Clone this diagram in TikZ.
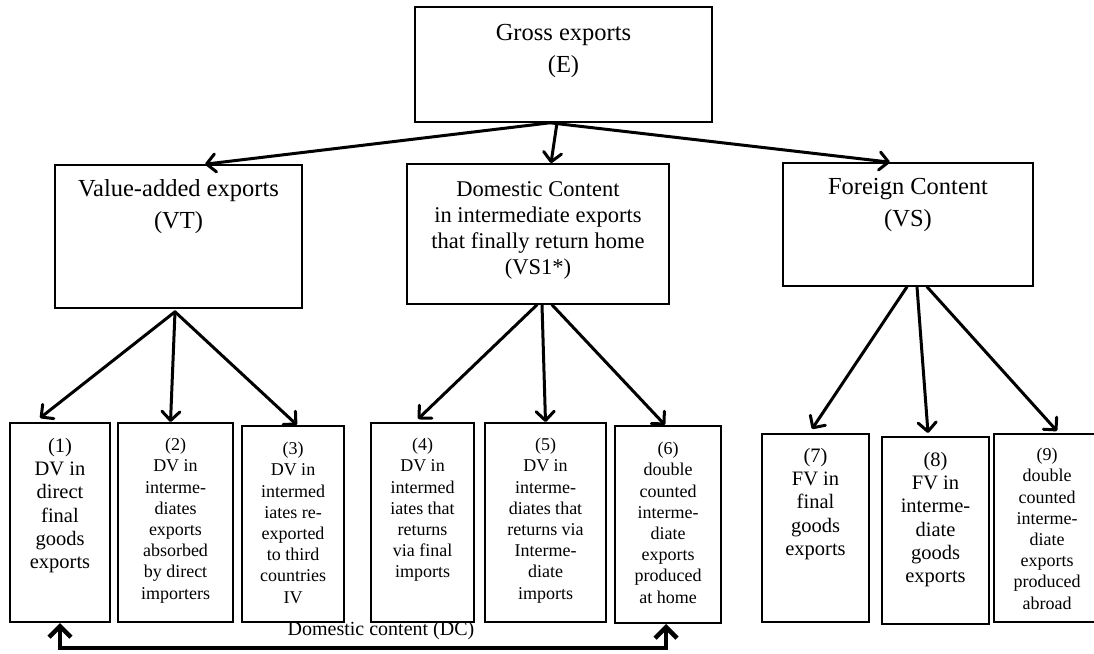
\documentclass[tikz,border=0pt]{standalone}
\usepackage{fontspec}
\setmainfont{Liberation Serif}
\usetikzlibrary{arrows.meta,fit}
\begin{document}
\begin{tikzpicture}[x=1pt,y=-1pt,
  topbox/.style={draw, line width=1.6pt, inner sep=0pt},
  botbox/.style={draw, line width=2pt, inner sep=0pt},
  txt/.style={anchor=north, inner sep=0pt, align=center},
  bigtxt/.style={txt, font=\fontsize{24.5}{32}\selectfont},
  midtxt/.style={txt, font=\fontsize{22.5}{26}\selectfont},
  btxtA/.style={txt, font=\fontsize{20.5}{23.2}\selectfont},
  btxtB/.style={txt, font=\fontsize{18}{21.2}\selectfont},
  arr/.style={line width=3pt, line cap=round, line join=round, -{Straight Barb[length=9pt,width=18pt,line cap=round,line join=round]}},
  dcarr/.style={line width=4.5pt, line join=miter, {Straight Barb[length=11pt,width=22pt]}-{Straight Barb[length=11pt,width=22pt]}},
  dclabel/.style={inner sep=0pt, font=\fontsize{20}{24}\selectfont}
]
\useasboundingbox (0,0) rectangle (1094,653);

% top level
\node[topbox, fit={(415,7) (712,122)}] (gross) {};
\node[bigtxt] (grosst) at (563.5,24) {Gross exports\\(E)};

% second level
\node[topbox, fit={(55,165) (302,308)}] (vt) {};
\node[bigtxt] (vtt) at (178.5,179) {Value-added exports\\(VT)};

\node[topbox, fit={(407,164) (669,304)}] (vs1) {};
\node[midtxt] (vs1t) at (538,181) {Domestic Content\\in intermediate exports\\that finally return home\\(VS1*)};

\node[topbox, fit={(783,163) (1033,286)}] (vs) {};
\node[bigtxt] (vst) at (908,178) {Foreign Content\\(VS)};

% bottom level
\node[botbox, fit={(10,423) (110,622)}] (b1) {};
\node[btxtA] (b1t) at (60,438) {(1)\\DV in\\direct\\final\\goods\\exports};

\node[botbox, fit={(118,423) (233,622)}] (b2) {};
\node[btxtB] (b2t) at (175.5,438) {(2)\\DV in\\interme-\\diates\\exports\\absorbed\\by direct\\importers};

\node[botbox, fit={(242,426) (344,622)}] (b3) {};
\node[btxtB] (b3t) at (293,442) {(3)\\DV in\\intermed\\iates re-\\exported\\to third\\countries\\IV};

\node[botbox, fit={(371,423) (474,622)}] (b4) {};
\node[btxtB] (b4t) at (422.5,438) {(4)\\DV in\\intermed\\iates that\\returns\\via final\\imports};

\node[botbox, fit={(485,423) (606,622)}] (b5) {};
\node[btxtB] (b5t) at (545.5,438) {(5)\\DV in\\interme-\\diates that\\returns via\\Interme-\\diate\\imports};

\node[botbox, fit={(615,426) (721,623)}] (b6) {};
\node[btxtB] (b6t) at (668,442) {(6)\\double\\counted\\interme-\\diate\\exports\\produced\\at home};

\node[botbox, fit={(762,434) (869,622)}] (b7) {};
\node[btxtA] (b7t) at (815.5,448) {(7)\\FV in\\final\\goods\\exports};

\node[botbox, fit={(882,437) (989,624)}] (b8) {};
\node[btxtA] (b8t) at (935.5,452) {(8)\\FV in\\interme-\\diate\\goods\\exports};

\node[botbox, fit={(994,434) (1100,622)}] (b9) {};
\node[btxtB] (b9t) at (1047,448) {(9)\\double\\counted\\interme-\\diate\\exports\\produced\\abroad};

% arrows from gross exports
\draw[arr] ([xshift=-13.5pt]gross.south) -- ([xshift=26.5pt]vt.north);
\draw[arr] ([xshift=-6.5pt]gross.south) -- ([xshift=13pt]vs1.north);
\draw[arr] ([xshift=-13.5pt]gross.south) -- ([xshift=-18pt]vs.north);

% arrows from VT
\draw[arr] ([xshift=-3.5pt,yshift=-3pt]vt.south) -- ([xshift=-20pt,yshift=4pt]b1.north);
\draw[arr] ([xshift=-3.5pt,yshift=-3pt]vt.south) -- ([xshift=-5pt]b2.north);
\draw[arr] ([xshift=-3.5pt,yshift=-3pt]vt.south) -- ([xshift=4pt]b3.north);

% arrows from VS1*
\draw[arr] ([xshift=-1pt]vs1.south) -- ([xshift=-4.5pt,yshift=3pt]b4.north);
\draw[arr] ([xshift=4pt]vs1.south) -- (b5.north);
\draw[arr] ([xshift=14pt]vs1.south) -- ([xshift=-3pt]b6.north);

% arrows from VS
\draw[arr] ([xshift=-1pt]vs.south) -- ([xshift=-3.5pt,yshift=4pt]b7.north);
\draw[arr] ([xshift=9pt]vs.south) -- ([xshift=-7.5pt,yshift=3pt]b8.north);
\draw[arr] ([xshift=19pt]vs.south) -- ([xshift=10pt,yshift=2pt]b9.north);

% domestic content connector
\draw[dcarr] (b1.south) -- ++(0,25) -| ([xshift=-2pt]b6.south);
\node[dclabel] (dc) at (381,631) {Domestic content (DC)};
\end{tikzpicture}
\end{document}
